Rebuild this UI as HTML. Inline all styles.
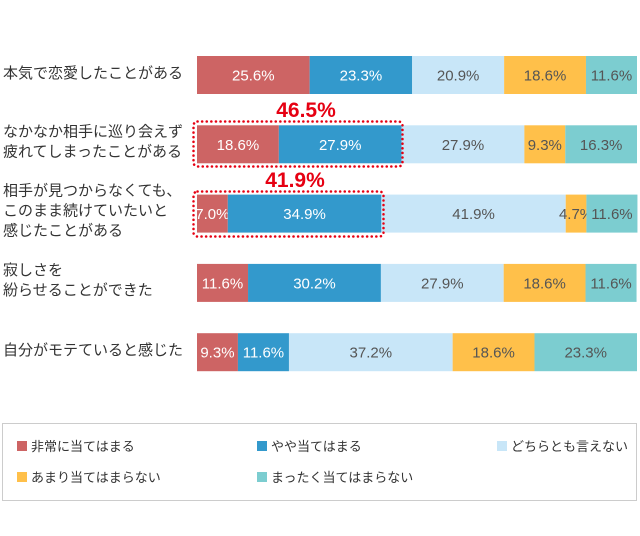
<!DOCTYPE html>
<html><head><meta charset="utf-8"><style>
body{margin:0;background:#fff;}
svg{display:block;font-family:"Liberation Sans","Noto Sans CJK JP",sans-serif;}
</style></head><body>
<svg id="chart" width="640" height="536" viewBox="0 0 640 536" xmlns="http://www.w3.org/2000/svg">
<g id="labels" font-size="15" fill="#333"></g>
<g id="bars"></g>
<g>
<rect x="193.5" y="121.5" width="209" height="45" rx="4" fill="none" stroke="#e60012" stroke-width="2.5" stroke-dasharray="0.1 4.5" stroke-linecap="round"/>
<text x="306" y="117" font-size="21" font-weight="bold" fill="#e60012" text-anchor="middle">46.5%</text>
</g>
<g>
<rect x="193.5" y="191.5" width="190" height="45" rx="4" fill="none" stroke="#e60012" stroke-width="2.5" stroke-dasharray="0.1 4.5" stroke-linecap="round"/>
<text x="295" y="187" font-size="21" font-weight="bold" fill="#e60012" text-anchor="middle">41.9%</text>
</g>
<rect x="2.5" y="423.5" width="634" height="77" fill="#fff" stroke="#ccc"/>
<g id="legend" font-size="13" fill="#333"></g>
</svg>
<script>
const categories=[["本気で恋愛したことがある"],["なかなか相手に巡り会えず","疲れてしまったことがある"],["相手が見つからなくても、","このまま続けていたいと","感じたことがある"],["寂しさを","紛らせることができた"],["自分がモテていると感じた"]];
const seriesNames=["非常に当てはまる","やや当てはまる","どちらとも言えない","あまり当てはまらない","まったく当てはまらない"];
const s1=[25.6,18.6,7.0,11.6,9.3];
const s2=[23.3,27.9,34.9,30.2,11.6];
const s3=[20.9,27.9,41.9,27.9,37.2];
const s4=[18.6,9.3,4.7,18.6,18.6];
const s5=[11.6,16.3,11.6,11.6,23.3];
const series=[s1,s2,s3,s4,s5];
const colors=["#cd6464","#3399cc","#c8e6f8","#ffc04a","#7ccdd0"];
const textColors=["#fff","#fff","#555","#555","#555"];
const NS="http://www.w3.org/2000/svg";
const x0=197,W=440,top0=56,rowStep=69.3,barH=38;
const xs=v=>v/100*W;
const yRow=i=>top0+i*rowStep;
const bars=document.getElementById('bars');
const labels=document.getElementById('labels');
categories.forEach((lines,i)=>{
  const cy=yRow(i)+barH/2;
  lines.forEach((ln,k)=>{
    const t=document.createElementNS(NS,'text');
    
    
    t.setAttribute('x',3);
    t.setAttribute('y',cy+5-(lines.length-1)*10+k*20-(lines.length>1?3:2));
    t.textContent=ln;labels.appendChild(t);
  });
  let acc=0;
  series.forEach((s,j)=>{
    const v=s[i];
    const r=document.createElementNS(NS,'rect');
    
    
    r.setAttribute('x',x0+xs(acc));r.setAttribute('y',yRow(i));
    r.setAttribute('width',xs(v));r.setAttribute('height',barH);
    r.setAttribute('fill',colors[j]);bars.appendChild(r);
    const t=document.createElementNS(NS,'text');
    
    
    t.setAttribute('x',x0+xs(acc+v/2));t.setAttribute('y',yRow(i)+barH/2+5.5);
    t.setAttribute('text-anchor','middle');t.setAttribute('font-size','15');
    t.setAttribute('fill',textColors[j]);
    t.textContent=v.toFixed(1)+'%';bars.appendChild(t);
    acc+=v;
  });
});
const legend=document.getElementById('legend');
const lpos=[[17,446],[257,446],[497,446],[17,477],[257,477]];
seriesNames.forEach((n,j)=>{
  const r=document.createElementNS(NS,'rect');
  
  
  r.setAttribute('x',lpos[j][0]);r.setAttribute('y',lpos[j][1]-5);
  r.setAttribute('width',10);r.setAttribute('height',10);r.setAttribute('fill',colors[j]);
  legend.appendChild(r);
  const t=document.createElementNS(NS,'text');
  
  
  t.setAttribute('x',lpos[j][0]+14);t.setAttribute('y',lpos[j][1]+5);
  t.textContent=n;legend.appendChild(t);
});
</script>
</body></html>
